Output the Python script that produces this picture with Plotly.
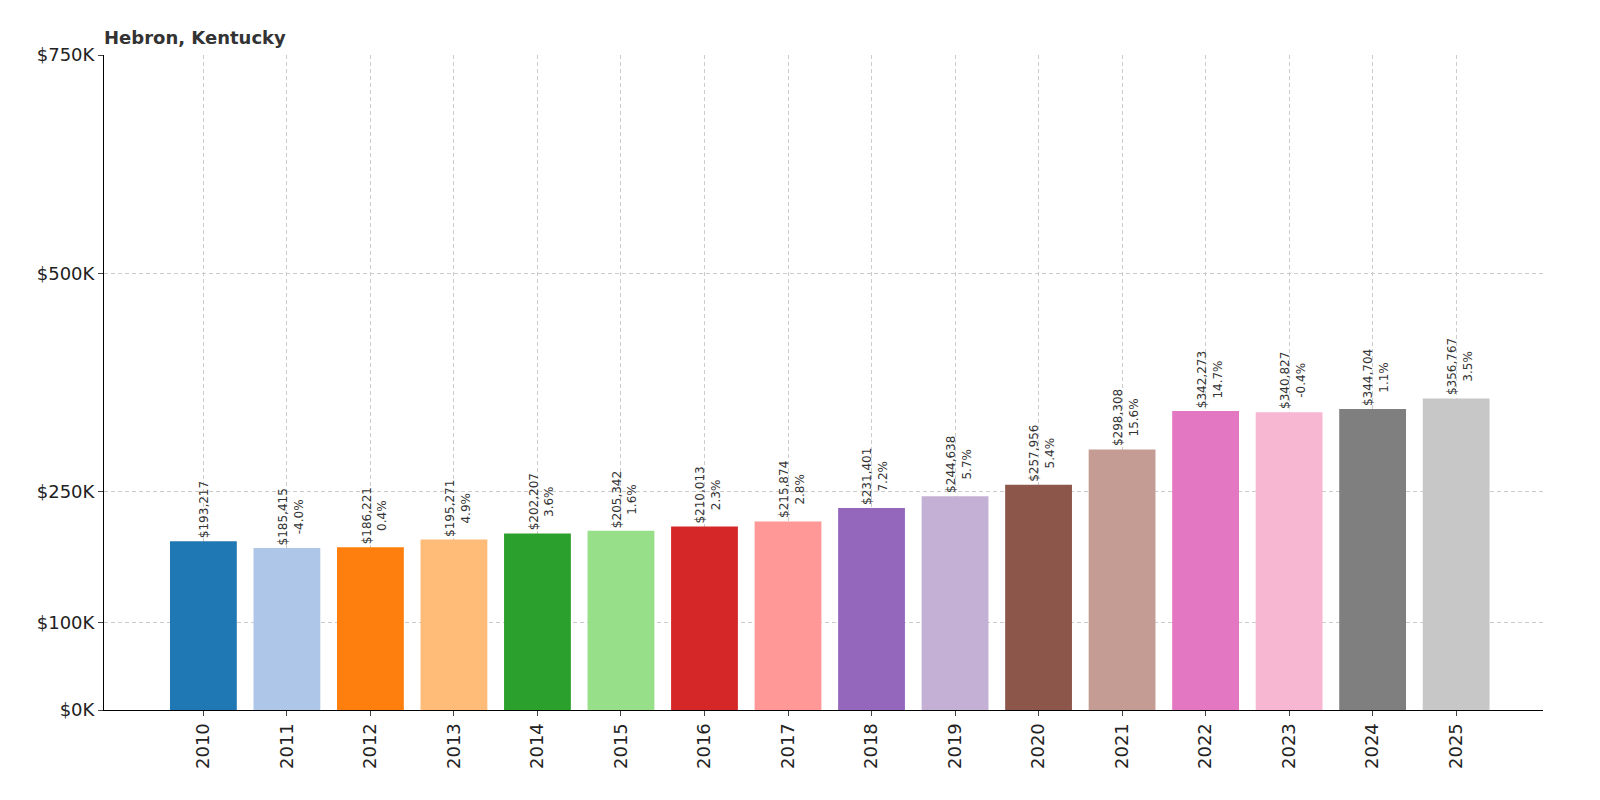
import plotly.graph_objects as go

years = [str(y) for y in range(2010, 2026)]
values = [193217,185415,186221,195271,202207,205342,210013,215874,231401,244638,257956,298308,342273,340827,344704,356767]
changes = [None,"-4.0%","0.4%","4.9%","3.6%","1.6%","2.3%","2.8%","7.2%","5.7%","5.4%","15.6%","14.7%","-0.4%","1.1%","3.5%"]
colors = ["#1f77b4","#aec7e8","#ff7f0e","#ffbb78","#2ca02c","#98df8a","#d62728","#ff9896",
          "#9467bd","#c5b0d5","#8c564b","#c49c94","#e377c2","#f7b6d2","#7f7f7f","#c7c7c7"]
ytickvals = [0,100000,250000,500000,750000]
yticktext = ["$0K","$100K","$250K","$500K","$750K"]

xs = list(range(len(years)))
fig = go.Figure(go.Bar(x=xs, y=values, marker_color=colors, width=0.8, marker_line_width=0))

for i,(v,c) in enumerate(zip(values,changes)):
    t = f"${v:,}" + (f"<br>{c}" if c else "")
    fig.add_annotation(x=i, y=v, text=t, textangle=-90, showarrow=False, yanchor="bottom",
                       xshift=4 if c else 0, yshift=1, font=dict(size=12, color="#333", family="DejaVu Sans"))

fig.update_layout(
    width=1600, height=800, plot_bgcolor="white", paper_bgcolor="white",
    margin=dict(l=96, r=65, t=47, b=98), showlegend=False,
    font=dict(family="DejaVu Sans", color="#222"),
    title=dict(text="<b>Hebron, Kentucky</b>", x=96/1600, xanchor="left", y=0.963, yanchor="middle",
               font=dict(size=18, color="#333")),
    xaxis=dict(range=[-1.19,16.04], tickvals=xs, ticktext=years, tickangle=-90, tickfont=dict(size=18),
               showgrid=True, gridcolor="#ccc", griddash="4px,3px", showline=True, linecolor="black",
               ticks="outside", ticklen=5, zeroline=False),
    yaxis=dict(range=[0,750000], tickvals=ytickvals, ticktext=yticktext, tickfont=dict(size=18),
               showgrid=True, gridcolor="#ccc", griddash="4px,3px", showline=True, linecolor="black",
               ticks="outside", ticklen=5, zeroline=False),
)
fig.write_html("out.html")
